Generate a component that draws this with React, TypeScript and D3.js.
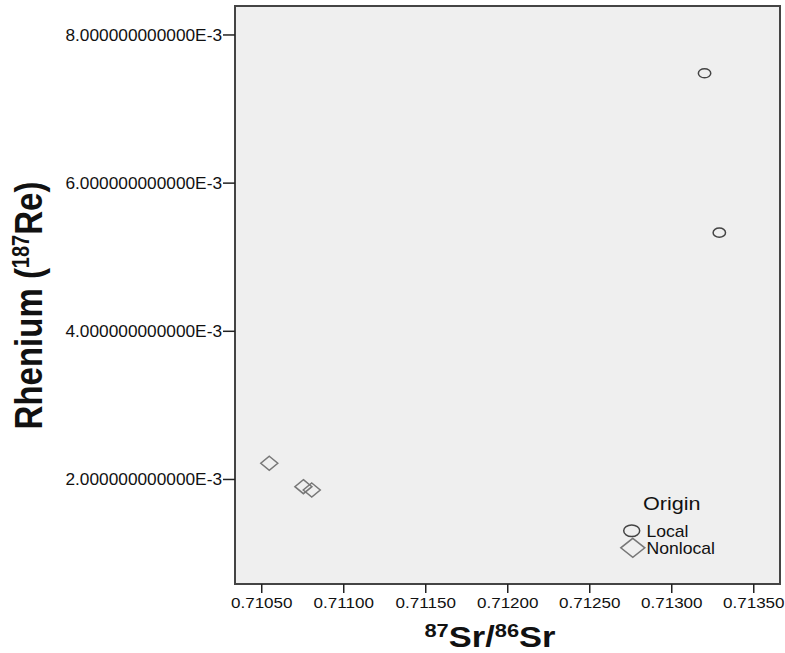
import React from "react";
import * as d3 from "d3";

const localSr = [0.7132, 0.71329];
const localRe = [0.007483, 0.005331];
const nonlocalSr = [0.710546, 0.710754, 0.710805];
const nonlocalRe = [0.002219, 0.001903, 0.001858];
const xTicks = [0.7105, 0.711, 0.7115, 0.712, 0.7125, 0.713, 0.7135];
const yTicks = [0.002, 0.004, 0.006, 0.008];
const yTickLabels = ["2.000000000000E-3", "4.000000000000E-3", "6.000000000000E-3", "8.000000000000E-3"];
const legendTitle = "Origin";
const legendItems = ["Local", "Nonlocal"];

const W = 785, H = 653;
const L = 235, R = 780, T = 6, B = 584;
const FONT = "'Liberation Sans', Arial, Helvetica, sans-serif";

const ST = ({ x, y, anchor = "start", size, weight = "normal", sx = 1.1, rotate = 0, children }: any) => (
  <g transform={`translate(${x},${y}) scale(${sx},1)${rotate ? ` rotate(${rotate})` : ""}`}>
    <text textAnchor={anchor} fontSize={size} fontWeight={weight} fontFamily={FONT} fill="#111">
      {children}
    </text>
  </g>
);

const diamond = (cx: number, cy: number, hw: number, hh: number) =>
  `M${cx},${cy - hh}L${cx + hw},${cy}L${cx},${cy + hh}L${cx - hw},${cy}Z`;

export default function App() {
  const x = d3.scaleLinear().domain([0.710337, 0.71366]).range([L, R]);
  const y = d3.scaleLinear().domain([0.000589, 0.008391]).range([B, T]);
  const fmt = d3.format(".5f");

  return (
    <svg width={W} height={H} style={{ position: "absolute", left: 0, top: 0, background: "#fff" }}>
      <rect x={L} y={T} width={R - L} height={B - T} fill="#efefef" stroke="#444" strokeWidth={2} />
      {yTicks.map((t, i) => (
        <g key={i}>
          <line x1={L - 12} x2={L} y1={y(t)} y2={y(t)} stroke="#222" strokeWidth={1.5} />
          <ST x={L - 13} y={y(t) + 6} anchor="end" size={16} sx={1.08}>{yTickLabels[i]}</ST>
        </g>
      ))}
      {xTicks.map((t, i) => (
        <g key={i}>
          <line x1={x(t)} x2={x(t)} y1={B} y2={B + 9} stroke="#222" strokeWidth={1.5} />
          <ST x={x(t)} y={608} anchor="middle" size={15.5} sx={1.1}>{fmt(t)}</ST>
        </g>
      ))}
      {localSr.map((v, i) => (
        <ellipse key={"l" + i} cx={x(v)} cy={y(localRe[i])} rx={6.2} ry={4.6} fill="none" stroke="#444" strokeWidth={1.5} />
      ))}
      {nonlocalSr.map((v, i) => (
        <path key={"n" + i} d={diamond(x(v), y(nonlocalRe[i]), 8.5, 7)} fill="none" stroke="#777" strokeWidth={1.5} />
      ))}
      <ST x={671.7} y={509.5} anchor="middle" size={18} sx={1.2}>{legendTitle}</ST>
      <ellipse cx={631.7} cy={530.7} rx={8} ry={5.8} fill="none" stroke="#444" strokeWidth={1.5} />
      <ST x={646.5} y={536.5} size={16} sx={1.1}>{legendItems[0]}</ST>
      <path d={diamond(632.8, 547.8, 12, 9.5)} fill="none" stroke="#777" strokeWidth={1.5} />
      <ST x={646.5} y={554} size={16} sx={1.1}>{legendItems[1]}</ST>
      <ST x={490} y={646.5} anchor="middle" size={30} weight="bold" sx={1.15}>
        <tspan fontSize={19} dy={-10}>87</tspan>
        <tspan dy={10}>Sr/</tspan>
        <tspan fontSize={19} dy={-10}>86</tspan>
        <tspan dy={10}>Sr</tspan>
      </ST>
      <ST x={42} y={305.5} anchor="middle" size={33} weight="bold" sx={1.15} rotate={-90}>
        Rhenium (<tspan fontSize={20} dy={-11}>187</tspan>
        <tspan dy={11}>Re)</tspan>
      </ST>
    </svg>
  );
}
